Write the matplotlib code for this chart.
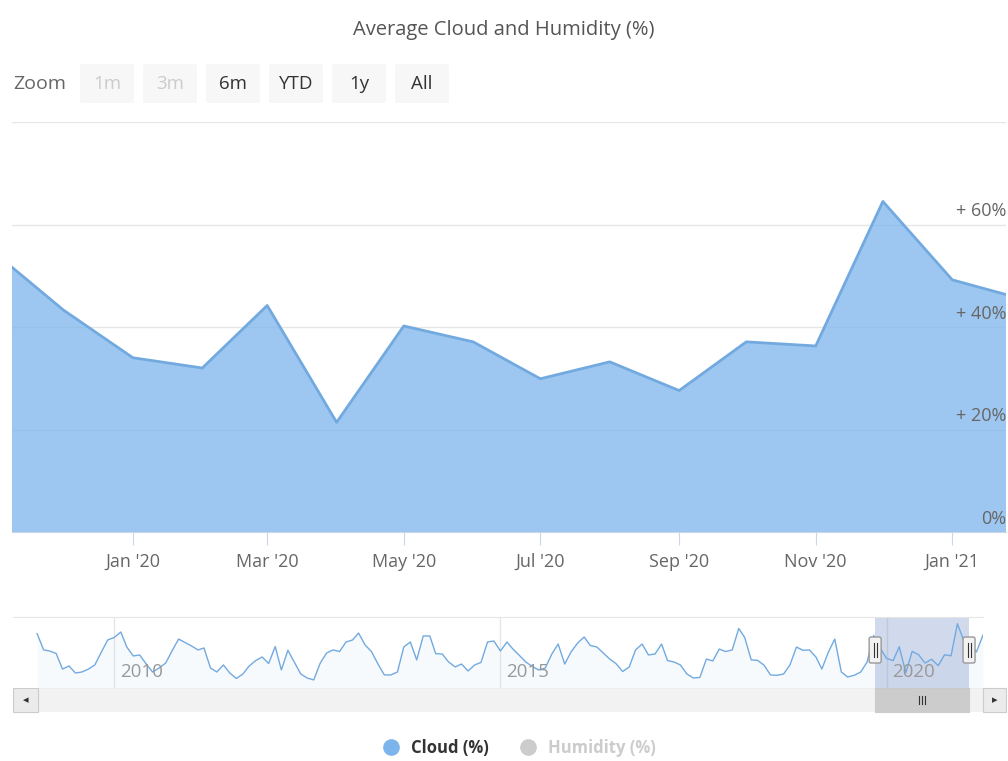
import matplotlib
matplotlib.use('Agg')
import numpy as np
import pandas as pd
import matplotlib.pyplot as plt
import matplotlib.dates as mdates
from matplotlib.patches import Rectangle, FancyBboxPatch
from matplotlib.lines import Line2D

plt.rcParams['font.family'] = ['Open Sans', 'DejaVu Sans']

# monthly average cloud cover (%), Jan 2009 .. Apr 2021
cloud_pct = [
    55.7, 41.4, 40.5, 38.3, 24.6, 27.3, 21.1, 22.0, 24.6, 28.2, 39.6, 50.2,
    52.4, 57.2, 44.0, 36.1, 37.0, 29.0, 22.0, 25.5, 29.9, 40.5, 51.0, 48.0,
    44.9, 41.4, 43.1, 25.5, 22.0, 28.2, 21.1, 16.3, 20.2, 27.3, 32.1, 35.2,
    29.5, 44.4, 23.8, 41.1, 30.8, 20.2, 16.7, 15.0, 29.9, 38.7, 41.4, 40.0,
    48.4, 50.2, 56.3, 45.8, 40.0, 29.0, 19.4, 19.4, 22.0, 44.0, 48.4, 32.6,
    53.7, 53.7, 38.1, 37.8, 30.8, 26.4, 29.0, 22.9, 28.2, 30.4, 48.4, 49.3,
    40.5, 48.4, 42.2, 36.5, 30.8, 26.8, 23.8, 25.5, 37.8, 46.6, 29.0, 39.6,
    47.5, 52.8, 45.3, 44.0, 38.7, 33.4, 29.3, 22.4, 26.4, 41.4, 46.6, 37.0,
    37.8, 46.6, 32.1, 30.8, 28.2, 20.2, 16.7, 17.2, 33.4, 31.7, 42.2, 40.0,
    41.4, 60.3, 52.4, 32.6, 32.3, 27.9, 19.4, 19.1, 20.2, 28.2, 44.0, 41.1,
    41.4, 35.2, 24.6, 39.6, 51.0, 22.0, 17.6, 19.1, 22.0, 30.8, 54.2, 43.3,
    34.0, 32.0, 44.2, 21.4, 40.2, 37.1, 29.9, 33.2, 27.6, 37.1, 36.3, 64.5,
    49.2, 45.5, 39.6, 54.5,
]
months = pd.date_range('2009-01-01', periods=len(cloud_pct), freq='MS')

view_start = pd.Timestamp('2019-11-08')
view_end = pd.Timestamp('2021-01-25')
x_tick_dates = pd.date_range('2020-01-01', '2021-01-01', freq='2MS')
x_tick_labels = ["Jan '20", "Mar '20", "May '20", "Jul '20", "Sep '20", "Nov '20", "Jan '21"]
y_ticks = [0, 20, 40, 60]
y_tick_labels = ['0%', '+ 20%', '+ 40%', '+ 60%']
y_max = 80
nav_start = pd.Timestamp('2008-09-09')
nav_years = [2010, 2015, 2020]
zoom_buttons = ['1m', '3m', '6m', 'YTD', '1y', 'All']
disabled_buttons = ['1m', '3m']
legend_labels = ['Cloud (%)', 'Humidity (%)']

W, H = 1008, 761
LINE = '#7cb5ec'
fig = plt.figure(figsize=(W / 100, H / 100), dpi=100)
fig.patch.set_facecolor('white')

def px_rect(x0, y0, x1, y1):
    # pixel box (top-left origin) -> figure fraction rect
    return [x0 / W, 1 - y1 / H, (x1 - x0) / W, (y1 - y0) / H]

# ---- main chart ----
ax = fig.add_axes(px_rect(12, 122, 1006, 532))
for v in range(0, y_max + 1, 20):
    ax.axhline(v, color='#e6e6e6', lw=1, zorder=1)
ax.fill_between(months, cloud_pct, 0, color=LINE, alpha=0.75, lw=0, zorder=2)
ax.plot(months, cloud_pct, color='#72aae0', lw=2, zorder=3)
ax.set_xlim(view_start, view_end)
ax.set_ylim(0, y_max)
for s in ['top', 'left', 'right']:
    ax.spines[s].set_visible(False)
ax.spines['bottom'].set_color('#ccd6eb')
ax.spines['bottom'].set_zorder(4)
ax.set_yticks([])
ax.set_xticks(x_tick_dates)
ax.set_xticklabels(x_tick_labels)
ax.tick_params(axis='x', length=9, color='#ccd6eb', labelcolor='#666666', labelsize=13, pad=6)
for v, lbl in zip(y_ticks, y_tick_labels):
    ax.annotate(lbl, xy=(1, v), xycoords=('axes fraction', 'data'), xytext=(0, 3),
                textcoords='offset points', ha='right', va='bottom',
                color='#666666', fontsize=13, zorder=5)

# ---- navigator ----
nav = fig.add_axes(px_rect(13, 617, 983, 688))
nav.fill_between(months, cloud_pct, 0, color=LINE, alpha=0.06, lw=0)
nav.plot(months, cloud_pct, color='#72aae0', lw=1)
nav.set_xlim(nav_start, months[-1])
nav.set_ylim(7.9, 70.4)
for s in ['left', 'right', 'bottom']:
    nav.spines[s].set_visible(False)
nav.spines['top'].set_color('#e6e6e6')
nav.set_xticks([]); nav.set_yticks([])
for yr in nav_years:
    d = pd.Timestamp(f'{yr}-01-01')
    nav.axvline(d, color='#e6e6e6', lw=1, zorder=0)
    nav.annotate(str(yr), xy=(d, 0), xycoords=('data', 'axes fraction'), xytext=(4, 5),
                 textcoords='offset points', ha='left', va='bottom',
                 color='#999999', fontsize=13.5)
nav.axvspan(view_start, view_end, color=(102 / 255, 133 / 255, 194 / 255), alpha=0.3, lw=0)

# pixel positions of the selected range, for handles and scrollbar thumb
def nav_px(d):
    return nav.transData.transform((mdates.date2num(d), 0))[0]

sel0, sel1 = nav_px(view_start), nav_px(view_end)

# ---- interface chrome drawn in pixel space ----
ui = fig.add_axes([0, 0, 1, 1], zorder=-1)
ui.set_xlim(0, W); ui.set_ylim(H, 0); ui.axis('off')
ui2 = fig.add_axes([0, 0, 1, 1], zorder=5)
ui2.set_xlim(0, W); ui2.set_ylim(H, 0); ui2.axis('off'); ui2.patch.set_alpha(0)

fig.text(0.5, 1 - 30 / H, 'Average Cloud and Humidity (%)', ha='center', va='center',
         color='#555555', fontsize=14.5)

ui.text(13, 84, 'Zoom', ha='left', va='center', color='#666666', fontsize=14)
bx = 80
for b in zoom_buttons:
    ui.add_patch(FancyBboxPatch((bx, 64), 54, 39, boxstyle='round,pad=0,rounding_size=2',
                                fc='#f7f7f7', ec='none'))
    col = '#cccccc' if b in disabled_buttons else '#333333'
    ui.text(bx + 27, 84, b, ha='center', va='center', color=col, fontsize=13.5)
    bx += 63

# scrollbar
ui.add_patch(Rectangle((13, 688), 993, 24, fc='#f2f2f2', ec='none'))
ui.add_patch(Rectangle((13, 688), 25, 24, fc='#ebebeb', ec='#cccccc', lw=0.8))
ui.add_patch(Rectangle((983, 688), 23, 24, fc='#ebebeb', ec='#cccccc', lw=0.8))
ui.text(25.5, 700, '◂', ha='center', va='center', color='#333333', fontsize=8,
        family='DejaVu Sans')
ui.text(994.5, 700, '▸', ha='center', va='center', color='#333333', fontsize=8,
        family='DejaVu Sans')
ui.add_patch(Rectangle((sel0, 688), sel1 - sel0, 24, fc='#cccccc', ec='#cccccc', lw=0.8))
mid = (sel0 + sel1) / 2
for dx in (-3, 0, 3):
    ui.plot([mid + dx, mid + dx], [696, 704], color='#333333', lw=0.8)

# navigator handles
for hx in (sel0, sel1):
    ui2.add_patch(FancyBboxPatch((hx - 6, 637), 12, 26, boxstyle='round,pad=0,rounding_size=2',
                                 fc='#f2f2f2', ec='#999999', lw=1))
    for dx in (-1.5, 1.5):
        ui2.plot([hx + dx, hx + dx], [643, 657], color='#333333', lw=0.8)

# legend
handles = [Line2D([], [], ls='none', marker='o', markersize=11, color=LINE),
           Line2D([], [], ls='none', marker='o', markersize=11, color='#cccccc')]
leg = fig.legend(handles, legend_labels, loc='center', bbox_to_anchor=(0.5 + 11 / W, 1 - 748 / H),
                 ncol=2, frameon=False, handletextpad=0.15, columnspacing=1.4,
                 prop={'size': 12, 'weight': 'bold'})
for t, c in zip(leg.get_texts(), ['#333333', '#cccccc']):
    t.set_color(c)

fig.savefig('out.png', dpi=100, facecolor='white')
